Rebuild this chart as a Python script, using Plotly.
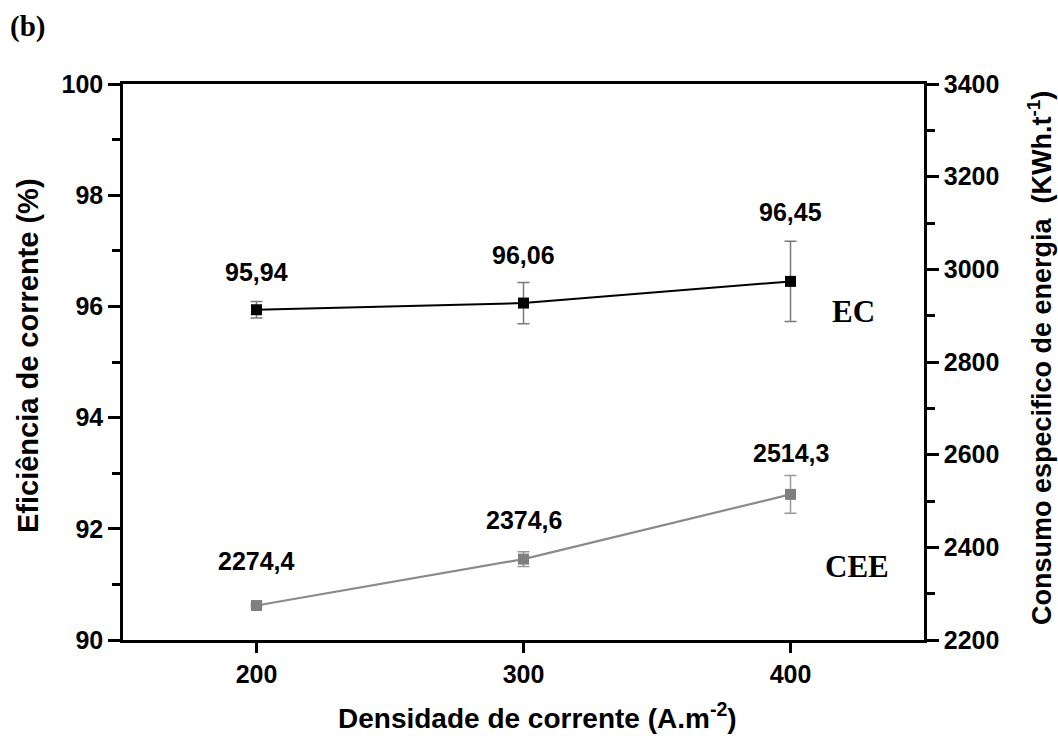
import plotly.graph_objects as go

# Current density (A.m-2)
densidade = [200, 300, 400]

# Current efficiency (%) with standard deviations
ec = [95.94, 96.06, 96.45]
ec_err = [0.15, 0.37, 0.72]

# Specific energy consumption (kWh/t) with standard deviations
cee = [2274.4, 2374.6, 2514.3]
cee_err = [2, 16, 41]

ec_labels = ["95,94", "96,06", "96,45"]
cee_labels = ["2274,4", "2374,6", "2514,3"]
ec_label_shift = [38, 48, 69]
cee_label_shift = [45, 39, 41]

SANS = "Liberation Sans"
SERIF = "Liberation Serif"
AXIS_W = 2.5

# plot area in pixels
L, R, T, B = 123, 924, 84, 640


def px(xp):
    return (xp - L) / (R - L)


def py(yp):
    return 1 - (yp - T) / (B - T)


fig = go.Figure()

fig.add_trace(go.Scatter(
    x=densidade, y=ec, mode="lines+markers", name="EC",
    line=dict(color="black", width=2),
    marker=dict(symbol="square", size=11, color="black"),
    error_y=dict(type="data", array=ec_err, visible=True,
                 color="#7a7a7a", thickness=1.5, width=6),
))

fig.add_trace(go.Scatter(
    x=densidade, y=cee, mode="lines+markers", name="CEE", yaxis="y2",
    line=dict(color="#8a8a8a", width=2.2),
    marker=dict(symbol="square", size=11, color="#7f7f7f"),
    error_y=dict(type="data", array=cee_err, visible=True,
                 color="#9a9a9a", thickness=1.5, width=6),
))

label_font = dict(family=SANS, size=25, color="black", weight="bold")
title_font = dict(family=SANS, size=28, color="black", weight="bold")
serif_font = dict(family=SERIF, size=31, color="black", weight="bold")

annotations = []
for x, y, t, s in zip(densidade, ec, ec_labels, ec_label_shift):
    annotations.append(dict(x=x, y=y, xref="x", yref="y", text=t, showarrow=False,
                            xanchor="center", yanchor="middle", yshift=s, font=label_font))
for x, y, t, s in zip(densidade, cee, cee_labels, cee_label_shift):
    annotations.append(dict(x=x, y=y, xref="x", yref="y2", text=t, showarrow=False,
                            xanchor="center", yanchor="middle", yshift=s, font=label_font))


def note(x, y, text, font, angle=0):
    return dict(xref="paper", yref="paper", x=px(x), y=py(y), text=text,
                showarrow=False, xanchor="center", yanchor="middle",
                textangle=angle, font=font)


# Series names inside the plot
annotations.append(note(853, 311, "EC", serif_font))
annotations.append(note(857, 566, "CEE", serif_font))

# Panel letter
annotations.append(note(27, 27, "(b)", dict(family=SERIF, size=29, color="black", weight="bold")))

# Axis titles
annotations.append(note(537, 716, "Densidade de corrente (A.m<sup>-2</sup>)", title_font))
annotations.append(note(28, 356, "Eficiência de corrente (%)",
                        dict(family=SANS, size=29, color="black", weight="bold"), -90))
annotations.append(note(1040, 358, "Consumo especifico de energia  (KWh.t<sup>-1</sup>)",
                        dict(family=SANS, size=27, color="black", weight="bold"), -90))

tickfont = dict(family=SANS, size=25, color="black", weight="bold")

fig.update_layout(
    width=1058, height=736,
    margin=dict(l=L, r=1058 - R, t=T, b=736 - B),
    paper_bgcolor="white", plot_bgcolor="white",
    showlegend=False,
    annotations=annotations,
    xaxis=dict(
        range=[150, 450], tickvals=densidade, ticks="outside", ticklen=10,
        tickwidth=AXIS_W, tickcolor="black", showline=True, linewidth=AXIS_W,
        linecolor="black", mirror=True, showgrid=False, zeroline=False,
        tickfont=tickfont,
    ),
    yaxis=dict(
        range=[90, 100], dtick=2, ticks="outside", ticklen=12, tickwidth=AXIS_W,
        tickcolor="black", showline=True, linewidth=AXIS_W, linecolor="black",
        showgrid=False, zeroline=False, tickfont=tickfont,
        minor=dict(dtick=1, ticks="outside", ticklen=8, tickwidth=AXIS_W,
                   tickcolor="black", showgrid=False),
    ),
    yaxis2=dict(
        range=[2200, 3400], dtick=200, overlaying="y", side="right",
        ticks="outside", ticklen=12, tickwidth=AXIS_W, tickcolor="black",
        showline=True, linewidth=AXIS_W, linecolor="black",
        showgrid=False, zeroline=False, tickfont=tickfont,
        minor=dict(dtick=100, ticks="outside", ticklen=8, tickwidth=AXIS_W,
                   tickcolor="black", showgrid=False),
    ),
)

fig.write_html("out.html")
